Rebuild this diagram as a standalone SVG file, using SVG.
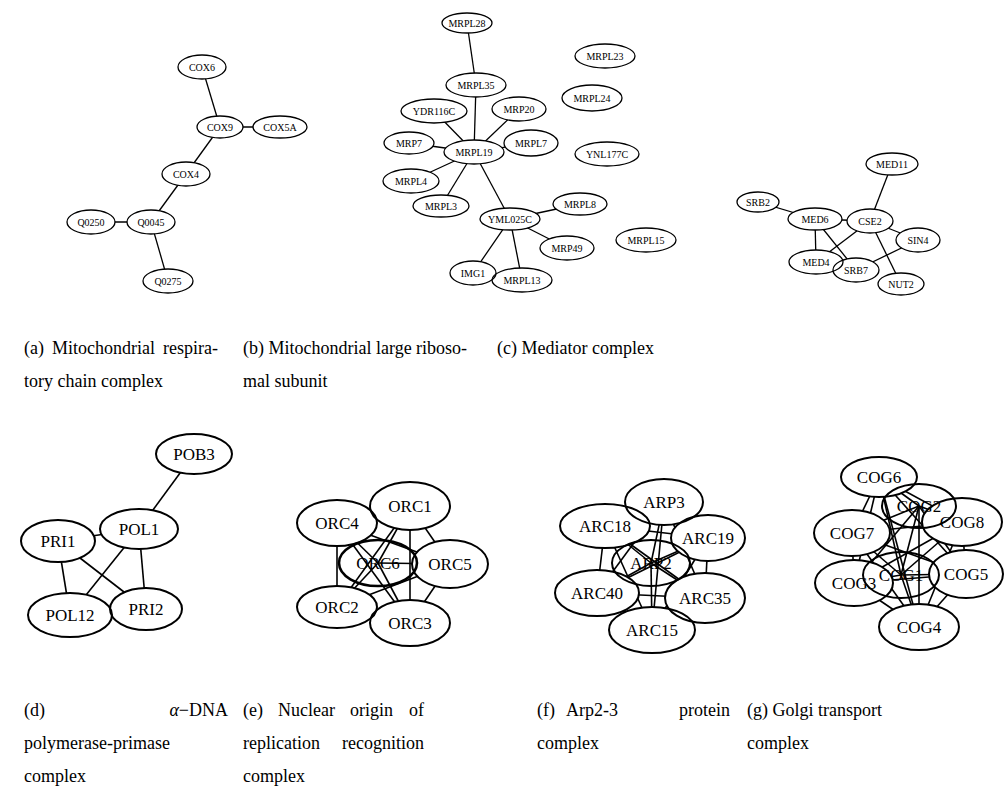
<svg xmlns="http://www.w3.org/2000/svg" width="1008" height="787" viewBox="0 0 1008 787">
<style>
.n ellipse{fill:none;stroke:#000;stroke-width:1.3}
.n text{font-family:"Liberation Serif","Times New Roman",serif;font-size:10px;text-anchor:middle;fill:#000}
.N ellipse{fill:none;stroke:#000;stroke-width:2}
.N text{font-family:"Liberation Serif","Times New Roman",serif;font-size:17px;text-anchor:middle;fill:#000}
#connectors line{stroke:#000;stroke-width:1.3}
#connectors .big line{stroke-width:1.6}
.cap{font-family:"Liberation Serif","Times New Roman",serif;font-size:18px;fill:#000}
</style>
<defs>
<mask id="hole" maskUnits="userSpaceOnUse" x="0" y="0" width="1008" height="787">
<rect x="0" y="0" width="1008" height="787" fill="#fff"/>
<g fill="#000">
<ellipse cx="202" cy="67" rx="24" ry="12"/><ellipse cx="220" cy="127" rx="23" ry="11"/><ellipse cx="280" cy="127" rx="27" ry="11"/><ellipse cx="186" cy="174" rx="24" ry="12"/><ellipse cx="151" cy="222" rx="24" ry="12"/><ellipse cx="91" cy="222" rx="24" ry="12"/><ellipse cx="168" cy="281" rx="25" ry="12"/>
<ellipse cx="467" cy="23" rx="25" ry="10"/><ellipse cx="476" cy="85" rx="30" ry="12"/><ellipse cx="434" cy="111" rx="33" ry="12"/><ellipse cx="519" cy="109" rx="27" ry="12"/><ellipse cx="409" cy="143" rx="25" ry="11"/><ellipse cx="474" cy="152" rx="30" ry="12"/><ellipse cx="531" cy="143" rx="27" ry="13"/><ellipse cx="411" cy="181" rx="28" ry="12"/><ellipse cx="441" cy="206" rx="28" ry="11"/><ellipse cx="510" cy="219" rx="30" ry="11"/><ellipse cx="580" cy="204" rx="27" ry="11"/><ellipse cx="567" cy="248" rx="27" ry="12"/><ellipse cx="473" cy="273" rx="23" ry="12"/><ellipse cx="522" cy="280" rx="30" ry="12"/>
<ellipse cx="892" cy="164" rx="26" ry="11"/><ellipse cx="758" cy="202" rx="21" ry="10"/><ellipse cx="815" cy="219" rx="27" ry="11"/><ellipse cx="870" cy="221" rx="23" ry="12"/><ellipse cx="918" cy="240" rx="22" ry="12"/><ellipse cx="816" cy="262" rx="27" ry="12"/><ellipse cx="856" cy="270" rx="23" ry="12"/><ellipse cx="901" cy="284" rx="23" ry="11"/>
<ellipse cx="194" cy="454" rx="38" ry="20"/><ellipse cx="139" cy="529" rx="39" ry="20"/><ellipse cx="58" cy="541" rx="37" ry="21"/><ellipse cx="70" cy="615" rx="42" ry="22"/><ellipse cx="146" cy="609" rx="36" ry="21"/>
<ellipse cx="410" cy="506" rx="40" ry="24"/><ellipse cx="337" cy="523" rx="40" ry="23"/><ellipse cx="450" cy="564" rx="38" ry="24"/><ellipse cx="337" cy="607" rx="40" ry="21"/><ellipse cx="410" cy="623" rx="40" ry="23"/>
<ellipse cx="664" cy="502" rx="39" ry="23"/><ellipse cx="605" cy="526" rx="45" ry="22"/><ellipse cx="708" cy="538" rx="37" ry="23"/><ellipse cx="597" cy="593" rx="42" ry="23"/><ellipse cx="705" cy="598" rx="40" ry="25"/><ellipse cx="652" cy="630" rx="43" ry="23"/>
<ellipse cx="879" cy="477" rx="38" ry="20"/><ellipse cx="962" cy="522" rx="40" ry="24"/><ellipse cx="852" cy="533" rx="38" ry="23"/><ellipse cx="854" cy="583" rx="39" ry="23"/><ellipse cx="966" cy="574" rx="37" ry="24"/><ellipse cx="919" cy="627" rx="40" ry="23"/>
</g>
</mask>
</defs>
<rect x="0" y="0" width="1008" height="787" fill="#fff"/>

<g id="connectors" mask="url(#hole)">
<g>
<line x1="202" y1="67" x2="220" y2="127"/><line x1="220" y1="127" x2="280" y2="127"/><line x1="220" y1="127" x2="186" y2="174"/><line x1="186" y1="174" x2="151" y2="222"/><line x1="151" y1="222" x2="91" y2="222"/><line x1="151" y1="222" x2="168" y2="281"/>
</g>
<g>
<line x1="467" y1="23" x2="476" y2="85"/><line x1="476" y1="85" x2="474" y2="152"/><line x1="434" y1="111" x2="474" y2="152"/><line x1="519" y1="109" x2="474" y2="152"/><line x1="409" y1="143" x2="474" y2="152"/><line x1="531" y1="143" x2="474" y2="152"/><line x1="411" y1="181" x2="474" y2="152"/><line x1="441" y1="206" x2="474" y2="152"/><line x1="474" y1="152" x2="510" y2="219"/><line x1="510" y1="219" x2="580" y2="204"/><line x1="510" y1="219" x2="567" y2="248"/><line x1="510" y1="219" x2="473" y2="273"/><line x1="510" y1="219" x2="522" y2="280"/>
</g>
<g>
<line x1="892" y1="164" x2="870" y2="221"/><line x1="758" y1="202" x2="815" y2="219"/><line x1="815" y1="219" x2="870" y2="221"/><line x1="815" y1="219" x2="816" y2="262"/><line x1="815" y1="219" x2="856" y2="270"/><line x1="870" y1="221" x2="816" y2="262"/><line x1="870" y1="221" x2="918" y2="240"/><line x1="870" y1="221" x2="901" y2="284"/><line x1="918" y1="240" x2="856" y2="270"/>
</g>
<g class="big">
<line x1="194" y1="454" x2="139" y2="529"/><line x1="58" y1="541" x2="139" y2="529"/><line x1="58" y1="541" x2="70" y2="615"/><line x1="58" y1="541" x2="146" y2="609"/><line x1="139" y1="529" x2="70" y2="615"/><line x1="139" y1="529" x2="146" y2="609"/>
</g>
<g class="big">
<line x1="410" y1="506" x2="337" y2="523"/><line x1="410" y1="506" x2="378" y2="563"/><line x1="410" y1="506" x2="450" y2="564"/><line x1="410" y1="506" x2="337" y2="607"/><line x1="410" y1="506" x2="410" y2="623"/>
<line x1="337" y1="523" x2="378" y2="563"/><line x1="337" y1="523" x2="450" y2="564"/><line x1="337" y1="523" x2="337" y2="607"/><line x1="337" y1="523" x2="410" y2="623"/>
<line x1="378" y1="563" x2="450" y2="564"/><line x1="378" y1="563" x2="337" y2="607"/><line x1="378" y1="563" x2="410" y2="623"/>
<line x1="450" y1="564" x2="337" y2="607"/><line x1="450" y1="564" x2="410" y2="623"/><line x1="337" y1="607" x2="410" y2="623"/>
</g>
<g class="big">
<line x1="664" y1="502" x2="605" y2="526"/><line x1="664" y1="502" x2="708" y2="538"/><line x1="664" y1="502" x2="651" y2="563"/><line x1="664" y1="502" x2="597" y2="593"/><line x1="664" y1="502" x2="705" y2="598"/><line x1="664" y1="502" x2="652" y2="630"/>
<line x1="605" y1="526" x2="708" y2="538"/><line x1="605" y1="526" x2="651" y2="563"/><line x1="605" y1="526" x2="597" y2="593"/><line x1="605" y1="526" x2="705" y2="598"/><line x1="605" y1="526" x2="652" y2="630"/>
<line x1="708" y1="538" x2="651" y2="563"/><line x1="708" y1="538" x2="597" y2="593"/><line x1="708" y1="538" x2="705" y2="598"/><line x1="708" y1="538" x2="652" y2="630"/>
<line x1="651" y1="563" x2="597" y2="593"/><line x1="651" y1="563" x2="705" y2="598"/><line x1="651" y1="563" x2="652" y2="630"/>
<line x1="597" y1="593" x2="705" y2="598"/><line x1="597" y1="593" x2="652" y2="630"/><line x1="705" y1="598" x2="652" y2="630"/>
</g>
<g class="big">
<line x1="879" y1="477" x2="919" y2="506"/><line x1="879" y1="477" x2="962" y2="522"/><line x1="879" y1="477" x2="852" y2="533"/><line x1="879" y1="477" x2="854" y2="583"/><line x1="879" y1="477" x2="901" y2="575"/><line x1="879" y1="477" x2="966" y2="574"/><line x1="879" y1="477" x2="919" y2="627"/>
<line x1="919" y1="506" x2="962" y2="522"/><line x1="919" y1="506" x2="852" y2="533"/><line x1="919" y1="506" x2="854" y2="583"/><line x1="919" y1="506" x2="901" y2="575"/><line x1="919" y1="506" x2="966" y2="574"/><line x1="919" y1="506" x2="919" y2="627"/>
<line x1="962" y1="522" x2="852" y2="533"/><line x1="962" y1="522" x2="854" y2="583"/><line x1="962" y1="522" x2="901" y2="575"/><line x1="962" y1="522" x2="966" y2="574"/><line x1="962" y1="522" x2="919" y2="627"/>
<line x1="852" y1="533" x2="854" y2="583"/><line x1="852" y1="533" x2="901" y2="575"/><line x1="852" y1="533" x2="966" y2="574"/><line x1="852" y1="533" x2="919" y2="627"/>
<line x1="854" y1="583" x2="901" y2="575"/><line x1="854" y1="583" x2="966" y2="574"/><line x1="854" y1="583" x2="919" y2="627"/>
<line x1="901" y1="575" x2="966" y2="574"/><line x1="901" y1="575" x2="919" y2="627"/><line x1="966" y1="574" x2="919" y2="627"/>
</g>
</g>

<g id="panel-a">
<g id="COX6" class="n"><ellipse cx="202" cy="67" rx="24" ry="12"/><text x="202" y="70.5">COX6</text></g>
<g id="COX9" class="n"><ellipse cx="220" cy="127" rx="23" ry="11"/><text x="220" y="130.5">COX9</text></g>
<g id="COX5A" class="n"><ellipse cx="280" cy="127" rx="27" ry="11"/><text x="280" y="130.5">COX5A</text></g>
<g id="COX4" class="n"><ellipse cx="186" cy="174" rx="24" ry="12"/><text x="186" y="177.5">COX4</text></g>
<g id="Q0045" class="n"><ellipse cx="151" cy="222" rx="24" ry="12"/><text x="151" y="225.5">Q0045</text></g>
<g id="Q0250" class="n"><ellipse cx="91" cy="222" rx="24" ry="12"/><text x="91" y="225.5">Q0250</text></g>
<g id="Q0275" class="n"><ellipse cx="168" cy="281" rx="25" ry="12"/><text x="168" y="284.5">Q0275</text></g>
</g>

<g id="panel-b">
<g id="MRPL28" class="n"><ellipse cx="467" cy="23" rx="25" ry="10"/><text x="467" y="26.5">MRPL28</text></g>
<g id="MRPL35" class="n"><ellipse cx="476" cy="85" rx="30" ry="12"/><text x="476" y="88.5">MRPL35</text></g>
<g id="YDR116C" class="n"><ellipse cx="434" cy="111" rx="33" ry="12"/><text x="434" y="114.5">YDR116C</text></g>
<g id="MRP20" class="n"><ellipse cx="519" cy="109" rx="27" ry="12"/><text x="519" y="112.5">MRP20</text></g>
<g id="MRP7" class="n"><ellipse cx="409" cy="143" rx="25" ry="11"/><text x="409" y="146.5">MRP7</text></g>
<g id="MRPL19" class="n"><ellipse cx="474" cy="152" rx="30" ry="12"/><text x="474" y="155.5">MRPL19</text></g>
<g id="MRPL7" class="n"><ellipse cx="531" cy="143" rx="27" ry="13"/><text x="531" y="146.5">MRPL7</text></g>
<g id="MRPL4" class="n"><ellipse cx="411" cy="181" rx="28" ry="12"/><text x="411" y="184.5">MRPL4</text></g>
<g id="MRPL3" class="n"><ellipse cx="441" cy="206" rx="28" ry="11"/><text x="441" y="209.5">MRPL3</text></g>
<g id="YML025C" class="n"><ellipse cx="510" cy="219" rx="30" ry="11"/><text x="510" y="222.5">YML025C</text></g>
<g id="MRPL8" class="n"><ellipse cx="580" cy="204" rx="27" ry="11"/><text x="580" y="207.5">MRPL8</text></g>
<g id="MRP49" class="n"><ellipse cx="567" cy="248" rx="27" ry="12"/><text x="567" y="251.5">MRP49</text></g>
<g id="IMG1" class="n"><ellipse cx="473" cy="273" rx="23" ry="12"/><text x="473" y="276.5">IMG1</text></g>
<g id="MRPL13" class="n"><ellipse cx="522" cy="280" rx="30" ry="12"/><text x="522" y="283.5">MRPL13</text></g>
<g id="MRPL23" class="n"><ellipse cx="605" cy="56" rx="30" ry="12"/><text x="605" y="59.5">MRPL23</text></g>
<g id="MRPL24" class="n"><ellipse cx="592" cy="98" rx="30" ry="13"/><text x="592" y="101.5">MRPL24</text></g>
<g id="YNL177C" class="n"><ellipse cx="607" cy="154" rx="32" ry="12"/><text x="607" y="157.5">YNL177C</text></g>
<g id="MRPL15" class="n"><ellipse cx="646" cy="240" rx="30" ry="12"/><text x="646" y="243.5">MRPL15</text></g>
</g>

<g id="panel-c">
<g id="MED11" class="n"><ellipse cx="892" cy="164" rx="26" ry="11"/><text x="892" y="167.5">MED11</text></g>
<g id="SRB2" class="n"><ellipse cx="758" cy="202" rx="21" ry="10"/><text x="758" y="205.5">SRB2</text></g>
<g id="MED6" class="n"><ellipse cx="815" cy="219" rx="27" ry="11"/><text x="815" y="222.5">MED6</text></g>
<g id="CSE2" class="n"><ellipse cx="870" cy="221" rx="23" ry="12"/><text x="870" y="224.5">CSE2</text></g>
<g id="SIN4" class="n"><ellipse cx="918" cy="240" rx="22" ry="12"/><text x="918" y="243.5">SIN4</text></g>
<g id="MED4" class="n"><ellipse cx="816" cy="262" rx="27" ry="12"/><text x="816" y="265.5">MED4</text></g>
<g id="SRB7" class="n"><ellipse cx="856" cy="270" rx="23" ry="12"/><text x="856" y="273.5">SRB7</text></g>
<g id="NUT2" class="n"><ellipse cx="901" cy="284" rx="23" ry="11"/><text x="901" y="287.5">NUT2</text></g>
</g>

<g id="panel-d">
<g id="POB3" class="N"><ellipse cx="194" cy="454" rx="38" ry="20"/><text x="194" y="460">POB3</text></g>
<g id="POL1" class="N"><ellipse cx="139" cy="529" rx="39" ry="20"/><text x="139" y="535">POL1</text></g>
<g id="PRI1" class="N"><ellipse cx="58" cy="541" rx="37" ry="21"/><text x="58" y="547">PRI1</text></g>
<g id="POL12" class="N"><ellipse cx="70" cy="615" rx="42" ry="22"/><text x="70" y="621">POL12</text></g>
<g id="PRI2" class="N"><ellipse cx="146" cy="609" rx="36" ry="21"/><text x="146" y="615">PRI2</text></g>
</g>

<g id="panel-e">
<g id="ORC1" class="N"><ellipse cx="410" cy="506" rx="40" ry="24"/><text x="410" y="512">ORC1</text></g>
<g id="ORC4" class="N"><ellipse cx="337" cy="523" rx="40" ry="23"/><text x="337" y="529">ORC4</text></g>
<g id="ORC6" class="N"><ellipse cx="378" cy="563" rx="39" ry="23" style="stroke-width:2.6"/><text x="378" y="569">ORC6</text></g>
<g id="ORC5" class="N"><ellipse cx="450" cy="564" rx="38" ry="24"/><text x="450" y="570">ORC5</text></g>
<g id="ORC2" class="N"><ellipse cx="337" cy="607" rx="40" ry="21"/><text x="337" y="613">ORC2</text></g>
<g id="ORC3" class="N"><ellipse cx="410" cy="623" rx="40" ry="23"/><text x="410" y="629">ORC3</text></g>
</g>

<g id="panel-f">
<g id="ARP3" class="N"><ellipse cx="664" cy="502" rx="39" ry="23"/><text x="664" y="508">ARP3</text></g>
<g id="ARC18" class="N"><ellipse cx="605" cy="526" rx="45" ry="22"/><text x="605" y="532">ARC18</text></g>
<g id="ARC19" class="N"><ellipse cx="708" cy="538" rx="37" ry="23"/><text x="708" y="544">ARC19</text></g>
<g id="ARP2" class="N"><ellipse cx="651" cy="563" rx="39" ry="23"/><text x="651" y="569">ARP2</text></g>
<g id="ARC40" class="N"><ellipse cx="597" cy="593" rx="42" ry="23"/><text x="597" y="599">ARC40</text></g>
<g id="ARC35" class="N"><ellipse cx="705" cy="598" rx="40" ry="25"/><text x="705" y="604">ARC35</text></g>
<g id="ARC15" class="N"><ellipse cx="652" cy="630" rx="43" ry="23"/><text x="652" y="636">ARC15</text></g>
</g>

<g id="panel-g">
<g id="COG6" class="N"><ellipse cx="879" cy="477" rx="38" ry="20"/><text x="879" y="483">COG6</text></g>
<g id="COG2" class="N"><ellipse cx="919" cy="506" rx="37" ry="22"/><text x="919" y="512">COG2</text></g>
<g id="COG8" class="N"><ellipse cx="962" cy="522" rx="40" ry="24"/><text x="962" y="528">COG8</text></g>
<g id="COG7" class="N"><ellipse cx="852" cy="533" rx="38" ry="23"/><text x="852" y="539">COG7</text></g>
<g id="COG3" class="N"><ellipse cx="854" cy="583" rx="39" ry="23"/><text x="854" y="589">COG3</text></g>
<g id="COG1" class="N"><ellipse cx="901" cy="575" rx="38" ry="23"/><text x="901" y="581">COG1</text></g>
<g id="COG5" class="N"><ellipse cx="966" cy="574" rx="37" ry="24"/><text x="966" y="580">COG5</text></g>
<g id="COG4" class="N"><ellipse cx="919" cy="627" rx="40" ry="23"/><text x="919" y="633">COG4</text></g>
</g>

<g id="captions" class="cap">
<text x="24" y="354">(a)</text><text x="52" y="354">Mitochondrial</text><text x="218" y="354" text-anchor="end">respira-</text>
<text x="24" y="387">tory chain complex</text>
<text x="243" y="354">(b) Mitochondrial large riboso-</text>
<text x="243" y="387">mal subunit</text>
<text x="497" y="354">(c) Mediator complex</text>
<text x="24" y="716">(d)</text><text x="228" y="716" text-anchor="end"><tspan font-style="italic">α</tspan>−DNA</text>
<text x="24" y="749">polymerase-primase</text>
<text x="24" y="782">complex</text>
<text x="243" y="716">(e)</text><text x="278" y="716">Nuclear</text><text x="350" y="716">origin</text><text x="424" y="716" text-anchor="end">of</text>
<text x="243" y="749">replication</text><text x="424" y="749" text-anchor="end">recognition</text>
<text x="243" y="782">complex</text>
<text x="537" y="716">(f)</text><text x="566" y="716">Arp2-3</text><text x="730" y="716" text-anchor="end">protein</text>
<text x="537" y="749">complex</text>
<text x="747" y="716">(g) Golgi transport</text>
<text x="747" y="749">complex</text>
</g>
</svg>
